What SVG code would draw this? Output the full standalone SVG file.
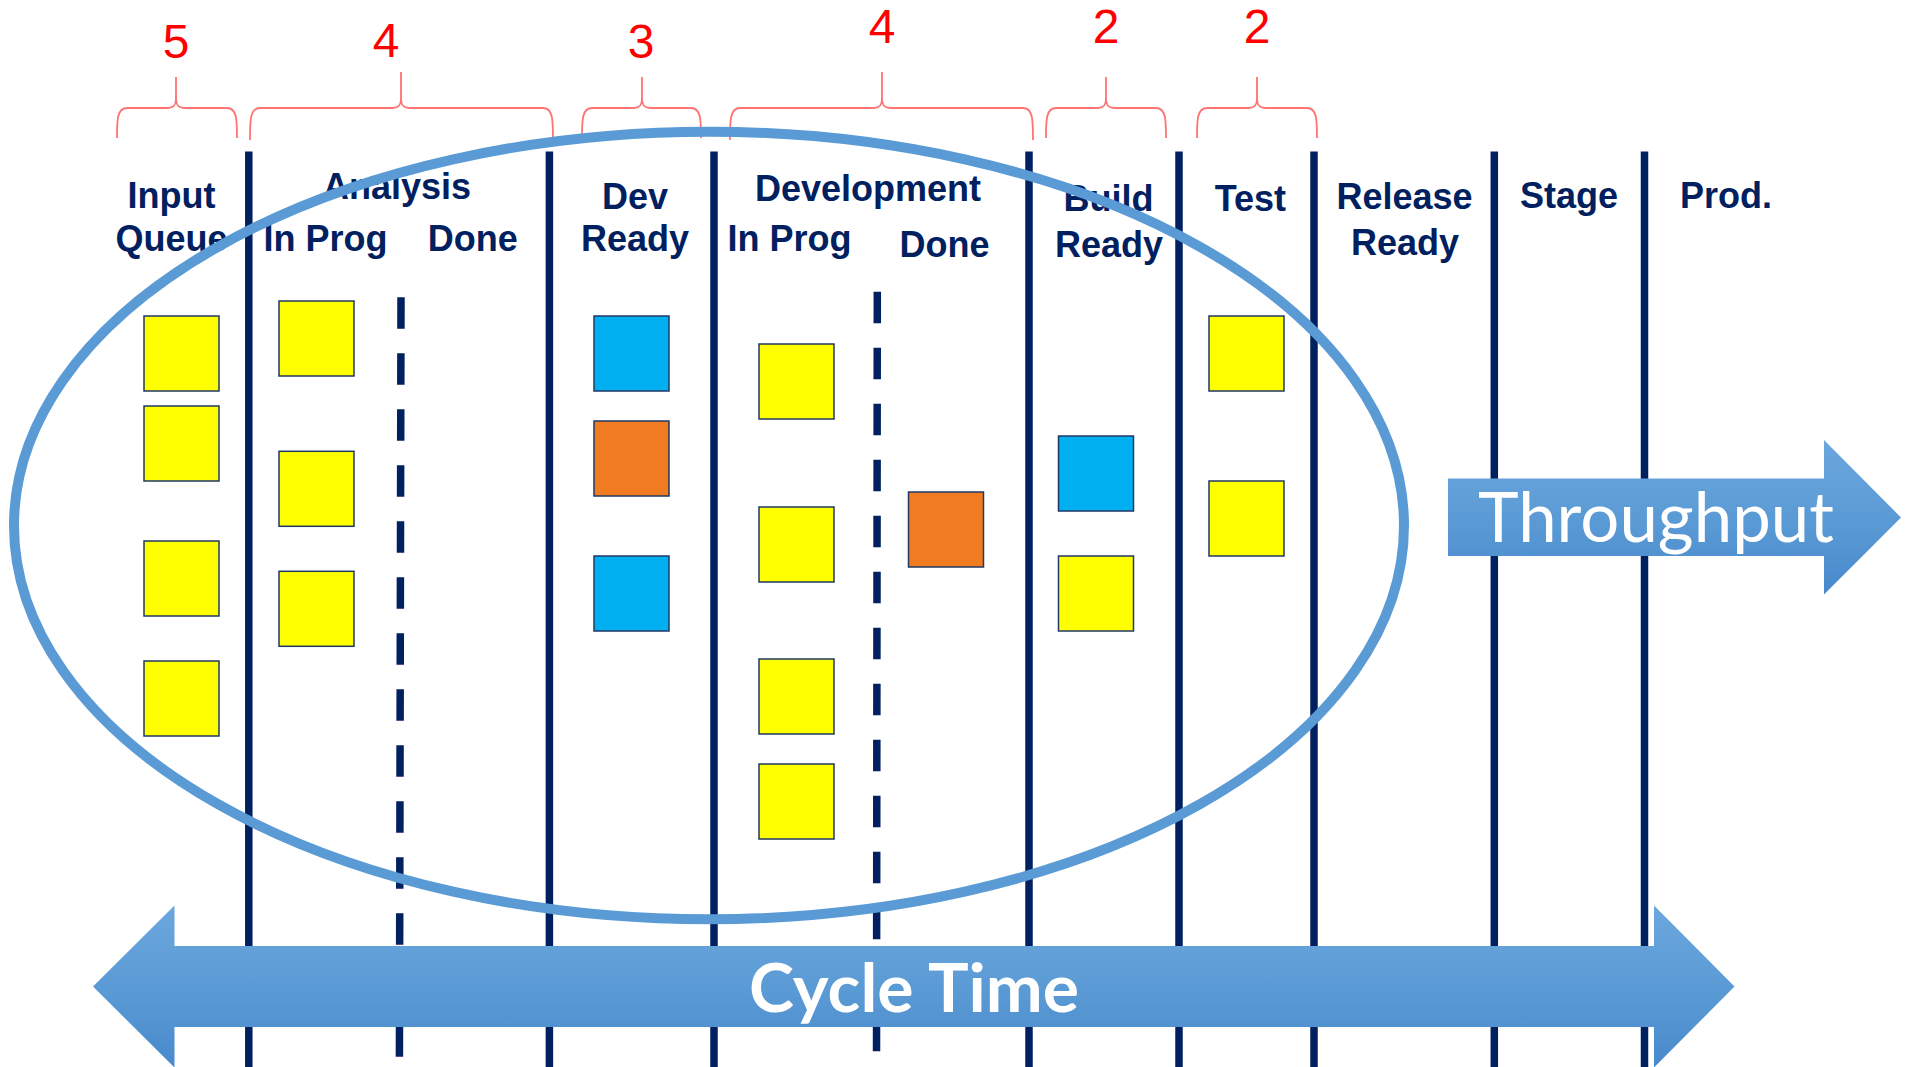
<svg xmlns="http://www.w3.org/2000/svg" width="1910" height="1067" viewBox="0 0 1910 1067">
<defs>
<style>
.col{stroke:#002060;stroke-width:7.5;fill:none}
.dash{stroke:#002060;stroke-width:7.5;fill:none;stroke-dasharray:31.5 24.5}
.brace{stroke:#FF7373;stroke-width:1.8;fill:none}
.wip{font-family:"Liberation Sans",Arial,sans-serif;font-size:48px;fill:#FF0000;text-anchor:middle}
.hdr{font-family:"Liberation Sans",Arial,sans-serif;font-size:36px;font-weight:bold;fill:#002060;text-anchor:middle}
.card{stroke:#203864;stroke-width:1.5}
.y{fill:#FFFF00}
.b{fill:#00B0F0}
.o{fill:#F07B21}
.arrowtxt{font-family:Lato,"Open Sans",sans-serif;fill:#FFFFFF;text-anchor:middle}
</style>
<linearGradient id="grad" x1="0" y1="0" x2="0" y2="1">
<stop offset="0" stop-color="#6CA7DE"/>
<stop offset="0.5" stop-color="#5B9BD5"/>
<stop offset="1" stop-color="#4889CC"/>
</linearGradient>
</defs>

<g id="connectors">
<line class="col" x1="248.8" y1="151.5" x2="248.8" y2="1067"/>
<line class="col" x1="549.4" y1="151.5" x2="549.4" y2="1067"/>
<line class="col" x1="714" y1="151.5" x2="714" y2="1067"/>
<line class="col" x1="1029" y1="151.5" x2="1029" y2="1067"/>
<line class="col" x1="1179" y1="151.5" x2="1179" y2="1067"/>
<line class="col" x1="1314" y1="151.5" x2="1314" y2="1067"/>
<line class="col" x1="1494.3" y1="151.5" x2="1494.3" y2="1067"/>
<line class="col" x1="1644.5" y1="151.5" x2="1644.5" y2="1067"/>
<line class="dash" x1="401" y1="297.3" x2="399.4" y2="1067"/>
<line class="dash" x1="877.3" y1="291.7" x2="876.5" y2="1067"/>
</g>

<g id="wip-limits">
<path class="brace" d="M117,138 C117,120 117,108 127,108 H168 C174,108 176,105 176,98 L176,77 L176,98 C176,105 178,108 184,108 H227 C237,108 237,120 237,138"/>
<path class="brace" d="M250,140 C250,120 250,108 260,108 H393 C399,108 401,105 401,98 L401,72 L401,98 C401,105 403,108 409,108 H543 C553,108 553,120 553,140"/>
<path class="brace" d="M582,138 C582,120 582,108 592,108 H634 C640,108 642,105 642,98 L642,77 L642,98 C642,105 644,108 650,108 H691 C701,108 701,120 701,138"/>
<path class="brace" d="M730,140 C730,120 730,108 740,108 H874 C880,108 882,105 882,98 L882,72 L882,98 C882,105 884,108 890,108 H1023 C1033,108 1033,120 1033,140"/>
<path class="brace" d="M1046,138 C1046,120 1046,108 1056,108 H1098 C1104,108 1106,105 1106,98 L1106,77 L1106,98 C1106,105 1108,108 1114,108 H1156 C1166,108 1166,120 1166,138"/>
<path class="brace" d="M1197,138 C1197,120 1197,108 1207,108 H1249 C1255,108 1257,105 1257,98 L1257,77 L1257,98 C1257,105 1259,108 1265,108 H1307 C1317,108 1317,120 1317,138"/>
<text class="wip" x="176" y="58">5</text>
<text class="wip" x="386" y="57">4</text>
<text class="wip" x="641" y="58">3</text>
<text class="wip" x="882" y="43">4</text>
<text class="wip" x="1106" y="43">2</text>
<text class="wip" x="1257" y="43">2</text>
</g>

<g id="input-queue">
<text class="hdr" x="171.5" y="208">Input</text>
<text class="hdr" x="171.5" y="251">Queue</text>
<rect class="card y" x="144" y="316" width="75" height="75"/>
<rect class="card y" x="144" y="406" width="75" height="75"/>
<rect class="card y" x="144" y="541" width="75" height="75"/>
<rect class="card y" x="144" y="661" width="75" height="75"/>
</g>

<g id="analysis">
<text class="hdr" x="397" y="199">Analysis</text>
<text class="hdr" x="325.5" y="251">In Prog</text>
<text class="hdr" x="472.7" y="251">Done</text>
<rect class="card y" x="279" y="301" width="75" height="75"/>
<rect class="card y" x="279" y="451.3" width="75" height="75"/>
<rect class="card y" x="279" y="571.3" width="75" height="75"/>
</g>

<g id="dev-ready">
<text class="hdr" x="635" y="209">Dev</text>
<text class="hdr" x="635" y="251">Ready</text>
<rect class="card b" x="594" y="316" width="75" height="75"/>
<rect class="card o" x="594" y="421" width="75" height="75"/>
<rect class="card b" x="594" y="556" width="75" height="75"/>
</g>

<g id="development">
<text class="hdr" x="868" y="201">Development</text>
<text class="hdr" x="789.6" y="250.7">In Prog</text>
<text class="hdr" x="944.6" y="256.7">Done</text>
<rect class="card y" x="759" y="344" width="75" height="75"/>
<rect class="card y" x="759" y="507" width="75" height="75"/>
<rect class="card y" x="759" y="659" width="75" height="75"/>
<rect class="card y" x="759" y="764" width="75" height="75"/>
<rect class="card o" x="908.5" y="492" width="75" height="75"/>
</g>

<g id="build-ready">
<text class="hdr" x="1108.5" y="210.7">Build</text>
<text class="hdr" x="1109" y="257">Ready</text>
<rect class="card b" x="1058.5" y="436" width="75" height="75"/>
<rect class="card y" x="1058.5" y="556" width="75" height="75"/>
</g>

<g id="test">
<text class="hdr" x="1250.4" y="210.7">Test</text>
<rect class="card y" x="1209" y="316" width="75" height="75"/>
<rect class="card y" x="1209" y="481" width="75" height="75"/>
</g>

<g id="release-ready">
<text class="hdr" x="1404.6" y="209">Release</text>
<text class="hdr" x="1405" y="255">Ready</text>
</g>

<g id="stage">
<text class="hdr" x="1569" y="208">Stage</text>
</g>

<g id="prod">
<text class="hdr" x="1726" y="208">Prod.</text>
</g>

<g id="wip-ellipse">
<ellipse cx="709" cy="525.5" rx="695" ry="393.8" fill="none" stroke="#5B9BD5" stroke-width="10"/>
</g>

<g id="throughput">
<path d="M1448,478.5 H1824 V440 L1901,517.5 L1824,594.5 V556 H1448 Z" fill="url(#grad)"/>
<text class="arrowtxt" x="1656" y="542.3" font-size="69" textLength="356" lengthAdjust="spacingAndGlyphs">Throughput</text>
</g>

<g id="cycle-time">
<path d="M93,986.5 L174.5,905.5 V946 H1654 V905.5 L1734.5,986.5 L1654,1067.5 V1027 H174.5 V1067.5 Z" fill="url(#grad)"/>
<text class="arrowtxt" x="914" y="1011.7" font-size="67" font-weight="bold" textLength="330" lengthAdjust="spacingAndGlyphs">Cycle Time</text>
</g>
</svg>
